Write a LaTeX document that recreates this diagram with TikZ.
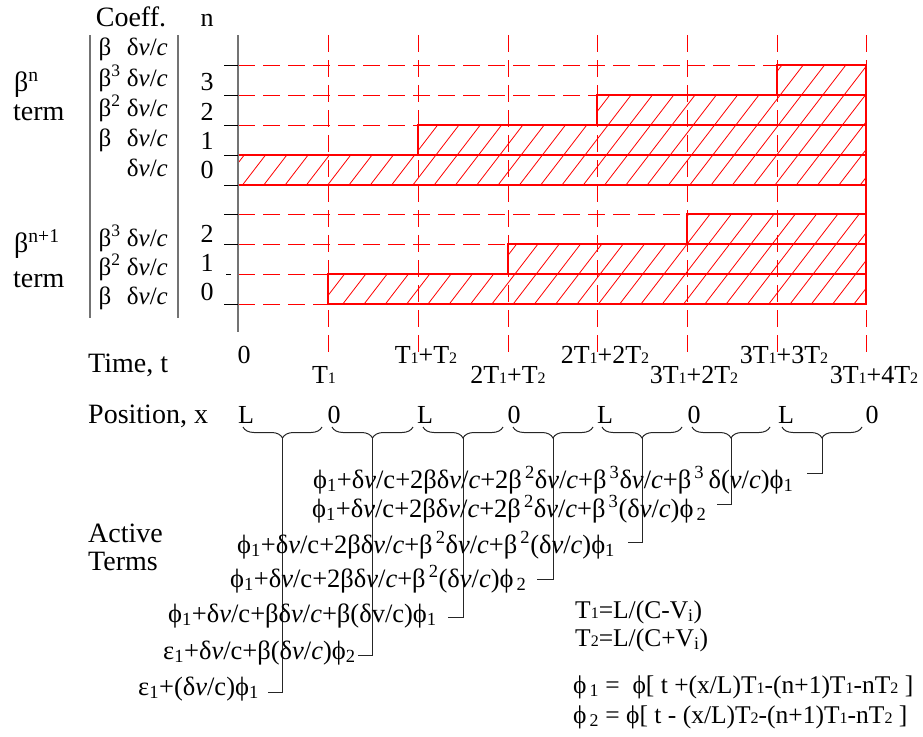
\documentclass[tikz,border=0pt]{standalone}
\usepackage{fontspec}
\setmainfont{Liberation Serif}
\usetikzlibrary{decorations.pathreplacing}
\newcommand\itv{\textit{v}}
\newcommand\itc{\textit{c}}
\newcommand\dvc{δ\itv/\itc}
\newcommand\tsub[1]{{\fontsize{16}{16}\selectfont #1}}
\tikzset{
  lbl/.style={font=\fontsize{26}{30}\selectfont, inner sep=0pt},
  hd/.style={font=\fontsize{28}{32}\selectfont, inner sep=0pt, anchor=base west},
  cf/.style={font=\fontsize{25}{30}\selectfont, inner sep=0pt, anchor=base east},
  trm/.style={font=\fontsize{26.5}{30}\selectfont, inner sep=0pt, anchor=base west},
  dfn/.style={font=\fontsize{25.5}{30}\selectfont, inner sep=0pt, anchor=base west},
  axisln/.style={draw=black!55, line width=1.6pt},
  barln/.style={draw=black!55, line width=1.2pt},
  tk/.style={draw=black, line width=1pt},
  gridln/.style={draw=red, line width=1pt, dash pattern=on 17pt off 8pt},
  boxln/.style={draw=red, line width=1.1pt},
  hatch/.style={draw=red, line width=0.8pt},
  brc/.style={draw=black!85, line width=1pt, decorate, decoration={brace, mirror, amplitude=11pt}},
  stem/.style={draw=black!85, line width=1pt},
}

\begin{document}
\begin{tikzpicture}[x=1pt, y=-1pt]
\useasboundingbox (0,0) rectangle (923,736);

% hatched strips
\begin{scope}
\clip (238,155) rectangle (866,185) (418,125) rectangle (866,155)
      (597,95) rectangle (866,125) (777,65) rectangle (866,95)
      (328,274) rectangle (866,304) (508,244) rectangle (866,274)
      (687,214) rectangle (866,244);
\foreach \k in {0,...,39}
  \draw[hatch] ({40+\k*21.3},310) -- ++(192,-250);
\end{scope}

% dashed grid
\foreach \x in {328,418,508,597,687,777,866}
  \draw[gridln] (\x,35) -- (\x,358);
\draw[gridln] (238,65) -- (777,65);
\draw[gridln] (238,95) -- (597,95);
\draw[gridln] (238,125) -- (418,125);
\draw[gridln] (238,214) -- (687,214);
\draw[gridln] (238,244) -- (508,244);
\draw[gridln] (238,274) -- (328,274);
\draw[gridln] (238,304) -- (328,304);

% strips
\draw[boxln] (238,155) rectangle (866,185);
\draw[boxln] (418,125) rectangle (866,155);
\draw[boxln] (597,95) rectangle (866,125);
\draw[boxln] (777,65) rectangle (866,95);
\draw[boxln] (328,274) rectangle (866,304);
\draw[boxln] (508,244) rectangle (866,274);
\draw[boxln] (687,214) rectangle (866,244);
\draw[boxln] (866,185) -- (866,214);

% axis and ticks
\draw[axisln] (238,35) -- (238,332);
\draw[barln] (90,35) -- (90,318);
\draw[barln] (178,35) -- (178,318);
\foreach \y in {65,95,125,155,185,214,244,304}
  \draw[tk] (224,\y) -- (238,\y);
\draw[tk] (226,274) -- (231,274);

% left labels
\node[hd, anchor=base] (coef) at (131,26) {Coeff.};
\node[lbl, anchor=base] (nhead) at (207,26) {n};
\node[hd] (bn) at (14,91) {β\textsuperscript{n}};
\node[hd] (tn) at (13,120) {term};
\node[hd] (bn1) at (14,252) {β\textsuperscript{n+1}};
\node[hd] (tn1) at (13,287) {term};

\node[cf] (c4) at (168,55) {β\phantom{\textsuperscript{3}} \dvc};
\node[cf] (c3) at (168,86) {β\textsuperscript{3} \dvc};
\node[cf] (c2) at (168,116) {β\textsuperscript{2} \dvc};
\node[cf] (c1) at (168,146) {β\phantom{\textsuperscript{3}} \dvc};
\node[cf] (c0) at (168,176) {\dvc};
\node[cf] (d3) at (168,246) {β\textsuperscript{3} \dvc};
\node[cf] (d2) at (168,275) {β\textsuperscript{2} \dvc};
\node[cf] (d1) at (168,304) {β\phantom{\textsuperscript{3}} \dvc};

\node[lbl, anchor=base] (n3) at (207,90) {3};
\node[lbl, anchor=base] (n2) at (207,120) {2};
\node[lbl, anchor=base] (n1) at (207,149) {1};
\node[lbl, anchor=base] (n0) at (207,178) {0};
\node[lbl, anchor=base] (m2) at (207,242) {2};
\node[lbl, anchor=base] (m1) at (207,271) {1};
\node[lbl, anchor=base] (m0) at (207,300) {0};

% time row
\node[hd] (time) at (88,372) {Time, t};
\node[lbl, anchor=base] (t0) at (244,363) {0};
\node[lbl, anchor=base] (t1) at (324,383) {T\tsub1};
\node[lbl, anchor=base] (t2) at (426,363) {T\tsub1+T\tsub2};
\node[lbl, anchor=base] (t3) at (508,383) {2T\tsub1+T\tsub2};
\node[lbl, anchor=base] (t4) at (605,363) {2T\tsub1+2T\tsub2};
\node[lbl, anchor=base] (t5) at (694,383) {3T\tsub1+2T\tsub2};
\node[lbl, anchor=base] (t6) at (784,363) {3T\tsub1+3T\tsub2};
\node[lbl, anchor=base] (t7) at (874,383) {3T\tsub1+4T\tsub2};

% position row
\node[hd] (pos) at (88,423) {Position, x};
\foreach \i/\x/\t in {1/246/L, 2/334/0, 3/425/L, 4/514/0, 5/605/L, 6/694/0, 7/786/L, 8/872/0}
  \node[lbl, anchor=base] (p\i) at (\x,423) {\t};

\foreach \i/\xa/\xb in {1/243/322, 2/332/413, 3/423/503, 4/513/593, 5/602/682, 6/692/770, 7/782/862} {
  \draw[brc] (\xa,427) -- (\xb,427);
  \coordinate (b\i) at ({(\xa+\xb)/2},438);
}

% active terms
\node[hd] (act) at (88,542) {Active};
\node[hd] (terms) at (88,570) {Terms};

\coordinate (e1) at (268,692);
\coordinate (e2) at (358,655);
\coordinate (e3) at (448,617);
\coordinate (e4) at (537,579);
\coordinate (e5) at (628,542);
\coordinate (e6) at (717,504);
\coordinate (e7) at (807,473);
\foreach \i in {1,...,7}
  \draw[stem] (b\i) |- (e\i);

\node[trm] (ra) at (313,488) {ϕ\textsubscript{1}+δ\itv/c+2βδ\itv/\itc+2β\textsuperscript{\,2}δ\itv/\itc+β\textsuperscript{\,3}δ\itv/\itc+β\textsuperscript{\,3}\,δ(\itv/\itc)ϕ\textsubscript{1}};
\node[trm] (rb) at (312,517) {ϕ\textsubscript{1}+δ\itv/c+2βδ\itv/\itc+2β\textsuperscript{\,2}δ\itv/\itc+β\textsuperscript{\,3}(δ\itv/\itc)ϕ\textsubscript{\,2}};
\node[trm] (rc) at (237,553) {ϕ\textsubscript{1}+δ\itv/c+2βδ\itv/\itc+β\textsuperscript{\,2}δ\itv/\itc+β\textsuperscript{\,2}(δ\itv/\itc)ϕ\textsubscript{1}};
\node[trm] (rd) at (230,587) {ϕ\textsubscript{1}+δ\itv/c+2βδ\itv/\itc+β\textsuperscript{\,2}(δ\itv/\itc)ϕ\textsubscript{\,2}};
\node[trm] (re) at (168,622) {ϕ\textsubscript{1}+δ\itv/c+βδ\itv/\itc+β(δv/c)ϕ\textsubscript{1}};
\node[trm] (rf) at (163,659) {ε\textsubscript{1}+δ\itv/c+β(δ\itv/\itc)ϕ\textsubscript{2}};
\node[trm] (rg) at (138,695) {ε\textsubscript{1}+(δ\itv/c)ϕ\textsubscript{1}};

% definitions
\node[dfn] (tone) at (575,618) {T\tsub1=L/(C-V\textsubscript{i})};
\node[dfn] (ttwo) at (575,646) {T\tsub2=L/(C+V\textsubscript{i})};
\node[dfn] (phone) at (573,693) {ϕ\textsubscript{\,1} = \ ϕ[ t +(x/L)T\tsub1-(n+1)T\tsub1-nT\tsub2 ]};
\node[dfn] (phtwo) at (573,723) {ϕ\textsubscript{\,2} = ϕ[ t - (x/L)T\tsub2-(n+1)T\tsub1-nT\tsub2 ]};
\end{tikzpicture}
\end{document}
